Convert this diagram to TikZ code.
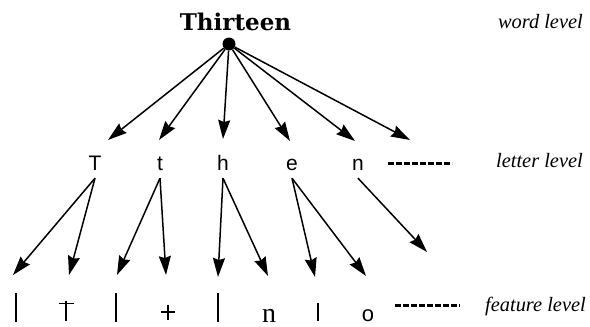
\documentclass[tikz,border=0pt]{standalone}
\usepackage{fontspec}
\setmainfont{Liberation Serif}
\newfontfamily\slabfont{DejaVu Serif}
\newfontfamily\lsans{Liberation Sans}
\usetikzlibrary{arrows.meta}
\begin{document}
\begin{tikzpicture}[x=1pt,y=-1pt,
  arr/.style={line width=1.5pt,-{Stealth[length=19pt,width=12pt,inset=2pt]}},
  letter/.style={font=\lsans\fontsize{21}{21}\selectfont, anchor=base, inner xsep=0pt, inner ysep=8pt, text depth=0pt},
  lvl/.style={font=\itshape\fontsize{20.4}{20.4}\selectfont, anchor=base east, inner sep=0pt},
  feat/.style={line width=1.8pt},
  dots/.style={line width=3pt, dash pattern=on 5.5pt off 2.5pt}
]
\useasboundingbox (0,0) rectangle (590,327);

% word
\node[font=\slabfont\bfseries\fontsize{23}{23}\selectfont, anchor=base, inner sep=0pt] (word) at (235.5,30) {Thirteen};
\node[circle, fill, inner sep=0pt, minimum size=13pt] (w) at (229,44) {};

% tips of word-level arrows
\coordinate (a1) at (108,140);
\coordinate (a2) at (159,140);
\coordinate (a3) at (223,139);
\coordinate (a4) at (290,141);
\coordinate (a5) at (355,141);
\coordinate (a6) at (410,140);
\foreach \i in {1,...,6} \draw[arr] (w) -- (a\i);

% letters
\node[letter] (T) at (95,170) {T};
\node[letter] (t) at (160,170) {t};
\node[letter] (h) at (223,170) {h};
\node[letter] (e) at (292,170) {e};
\node[letter] (n) at (358,170) {n};
\draw[dots] (388,163) -- (452,163);

% tips of letter-level arrows
\coordinate (f1) at (13,275);
\coordinate (f2) at (69,275);
\coordinate (f3) at (117,275);
\coordinate (f4) at (166,275);
\coordinate (f5) at (218,277);
\coordinate (f6) at (268,276);
\coordinate (f7) at (315,277);
\coordinate (f8) at (366,276);
\coordinate (f9) at (427,252);
\draw[arr] (T.south) -- (f1);
\draw[arr] (T.south) -- (f2);
\draw[arr] (t.south) -- (f3);
\draw[arr] (t.south) -- (f4);
\draw[arr] (h.south) -- (f5);
\draw[arr] (h.south) -- (f6);
\draw[arr] (e.south) -- (f7);
\draw[arr] (e.south) -- (f8);
\draw[arr] (n.south) -- (f9);

% features
\draw[feat] (16,293) -- (16,322);
\draw[feat] (66,301) -- (66,321);
\draw[feat] (58.5,303.5) -- (73.5,303.5);
\draw[feat] (116,293) -- (116,322);
\draw[feat] (168,305) -- (168,320);
\draw[feat] (161,312) -- (175,312);
\draw[feat] (218,293) -- (218,322);
\node[font=\fontsize{28}{28}\selectfont, anchor=base, inner sep=0pt] (fn) at (269,322) {n};
\draw[feat] (318,303) -- (318,321);
\node[font=\lsans\fontsize{22}{22}\selectfont, anchor=base, inner sep=0pt] (fo) at (368,321) {o};
\draw[dots] (395,305) -- (460,305);

% level labels
\node[lvl] (wl) at (583,28) {word level};
\node[lvl] (ll) at (583,167) {letter level};
\node[lvl] (fl) at (586,311) {feature level};
\end{tikzpicture}
\end{document}
